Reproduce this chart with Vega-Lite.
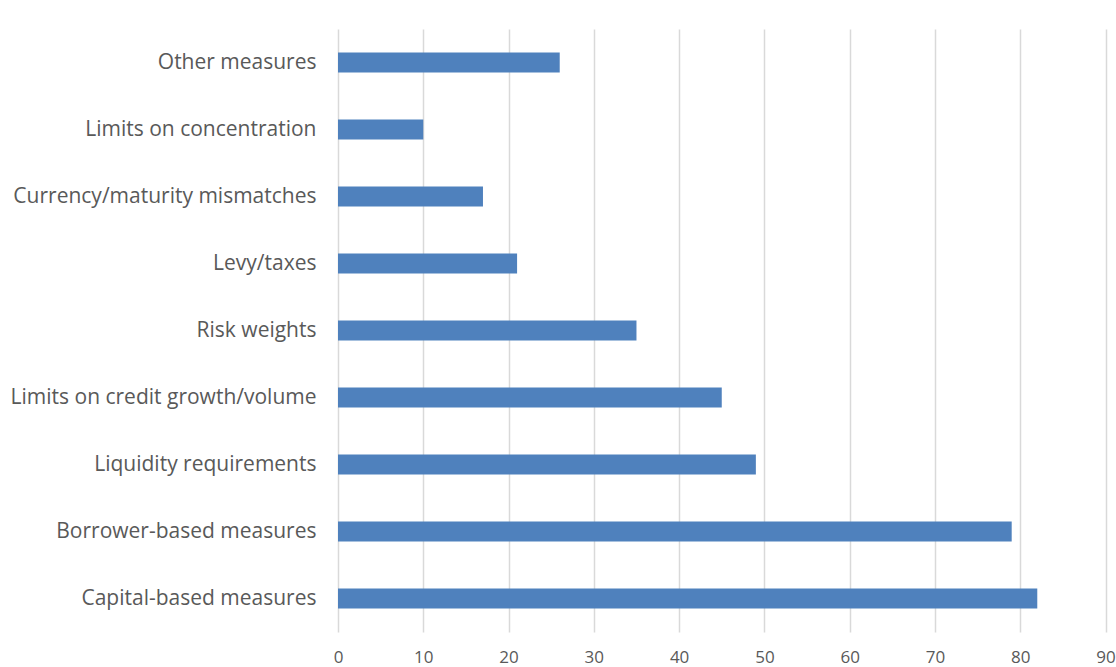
{
  "$schema": "https://vega.github.io/schema/vega-lite/v6.json",
  "autosize": {"type": "none"},
  "padding": {"left": 338, "top": 29, "right": 10, "bottom": 35},
  "width": 767.5,
  "height": 603,
  "background": "white",
  "data": {"values": [
    {"measure": "Other measures", "count": 26},
    {"measure": "Limits on concentration", "count": 10},
    {"measure": "Currency/maturity mismatches", "count": 17},
    {"measure": "Levy/taxes", "count": 21},
    {"measure": "Risk weights", "count": 35},
    {"measure": "Limits on credit growth/volume", "count": 45},
    {"measure": "Liquidity requirements", "count": 49},
    {"measure": "Borrower-based measures", "count": 79},
    {"measure": "Capital-based measures", "count": 82}
  ]},
  "mark": {"type": "bar", "color": "#4F81BD", "height": 20},
  "encoding": {
    "y": {
      "field": "measure", "type": "nominal", "title": null,
      "sort": ["Other measures", "Limits on concentration", "Currency/maturity mismatches", "Levy/taxes", "Risk weights", "Limits on credit growth/volume", "Liquidity requirements", "Borrower-based measures", "Capital-based measures"],
      "axis": {"domain": false, "ticks": false, "labelPadding": 22, "labelFont": "Open Sans", "labelFontSize": 21, "labelColor": "#595959", "grid": false, "labelLimit": 400}
    },
    "x": {
      "field": "count", "type": "quantitative", "title": null,
      "scale": {"domain": [0, 90], "nice": false},
      "axis": {"values": [0,10,20,30,40,50,60,70,80,90], "domain": false, "ticks": false, "labelPadding": 17, "labelFont": "Open Sans", "labelFontSize": 17, "labelColor": "#595959", "grid": true, "gridColor": "#D9D9D9", "gridWidth": 1.5, "labelFlush": false}
    }
  },
  "config": {"view": {"stroke": null}}
}
